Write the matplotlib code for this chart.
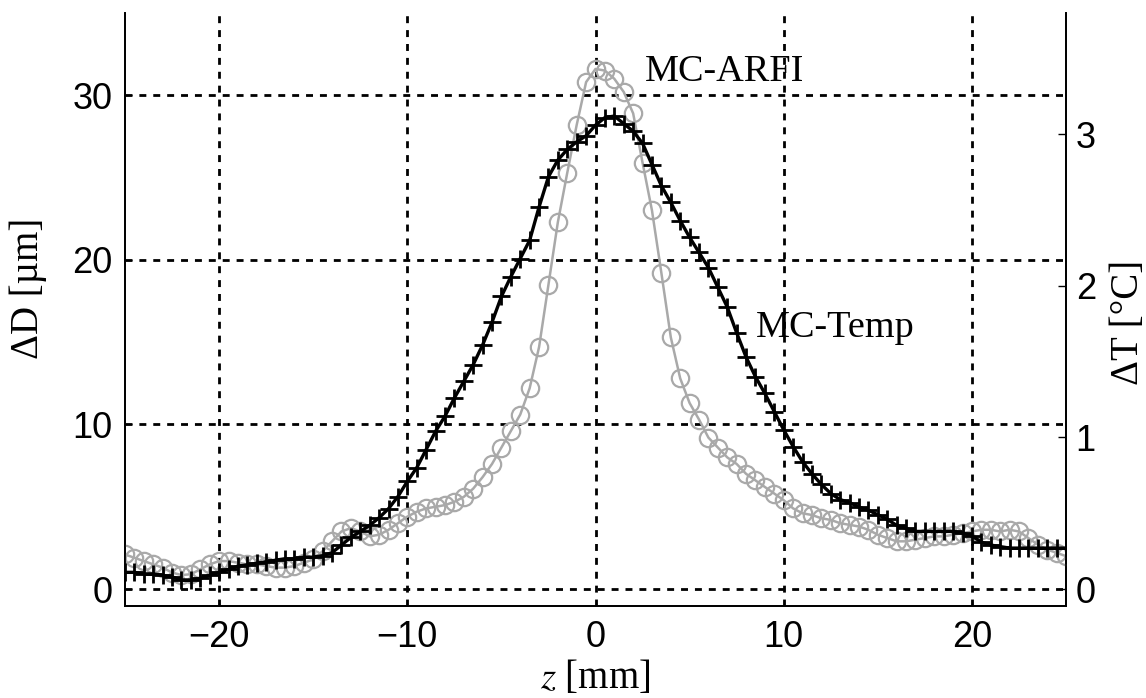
import numpy as np
import matplotlib
matplotlib.use("Agg")
import matplotlib.pyplot as plt

plt.rcParams["mathtext.fontset"] = "stix"

# axial position [mm]
z = np.arange(-25, 25.01, 0.5)

# MC-ARFI displacement [um]
arfi_disp = [
    2.1, 1.9, 1.7, 1.5, 1.3, 1.0, 0.85, 0.9, 1.2, 1.5,
    1.7, 1.7, 1.6, 1.5, 1.5, 1.4, 1.3, 1.3, 1.4, 1.6,
    1.8, 2.3, 2.9, 3.5, 3.7, 3.5, 3.2, 3.3, 3.6, 4.0,
    4.4, 4.7, 4.9, 5.0, 5.1, 5.3, 5.6, 6.1, 6.8, 7.6,
    8.6, 9.6, 10.6, 12.2, 14.7, 18.5, 22.3, 25.3, 28.2, 30.8,
    31.6, 31.5, 31.0, 30.2, 28.9, 25.9, 23.0, 19.2, 15.3, 12.8,
    11.3, 10.3, 9.2, 8.6, 8.0, 7.6, 7.0, 6.6, 6.2, 5.8,
    5.4, 4.9, 4.6, 4.5, 4.3, 4.2, 4.0, 3.9, 3.8, 3.6,
    3.3, 3.1, 2.9, 2.9, 3.0, 3.1, 3.2, 3.2, 3.3, 3.4,
    3.5, 3.6, 3.6, 3.5, 3.6, 3.5, 3.1, 2.7, 2.4, 2.2,
    2.0,
]

# MC-Temp temperature rise [degC]
temp_rise = [
    0.11, 0.11, 0.10, 0.10, 0.09, 0.08, 0.06, 0.06, 0.07, 0.09,
    0.11, 0.13, 0.15, 0.16, 0.17, 0.18, 0.19, 0.20, 0.20, 0.21,
    0.21, 0.22, 0.24, 0.29, 0.34, 0.38, 0.42, 0.47, 0.53, 0.61,
    0.71, 0.80, 0.92, 1.04, 1.14, 1.26, 1.37, 1.48, 1.61, 1.76,
    1.93, 2.06, 2.18, 2.30, 2.52, 2.72, 2.83, 2.90, 2.95, 2.99,
    3.06, 3.11, 3.12, 3.07, 3.02, 2.94, 2.80, 2.66, 2.55, 2.43,
    2.32, 2.22, 2.12, 1.99, 1.86, 1.69, 1.53, 1.40, 1.29, 1.17,
    1.05, 0.94, 0.84, 0.76, 0.69, 0.63, 0.59, 0.57, 0.54, 0.52,
    0.49, 0.46, 0.42, 0.40, 0.38, 0.38, 0.38, 0.38, 0.38, 0.37,
    0.35, 0.31, 0.29, 0.28, 0.27, 0.27, 0.27, 0.27, 0.27, 0.27,
    0.27,
]

x_ticks = [-20, -10, 0, 10, 20]
disp_ticks = [0, 10, 20, 30]
temp_ticks = [0, 1, 2, 3]

serif = "Liberation Serif"
sans = "Liberation Sans"

fig = plt.figure(figsize=(11.46, 6.98), dpi=100)
ax = fig.add_axes([0.1091, 0.1318, 0.8211, 0.8496])
ax2 = ax.twinx()

gray = "#a9a9a9"
ax.plot(z, arfi_disp, color=gray, lw=1.8, marker="o", ms=12.5,
        mfc="none", mec=gray, mew=1.6, zorder=3)
ax2.plot(z, temp_rise, color="black", lw=2.4, marker="+", ms=12.5,
         mew=2.0, zorder=3)

ax.set_xlim(-25, 25)
ax.set_ylim(-1.03, 35.0)
ax2.set_ylim(-0.112, 3.80)

ax.set_xticks(x_ticks)
ax.set_yticks(disp_ticks)
ax2.set_yticks(temp_ticks)
ax.set_xticklabels([f"\u2212{abs(v)}" if v < 0 else str(v) for v in x_ticks])

ax.grid(True, color="black", lw=2.0, linestyle=(0, (2.5, 2.5)))
ax.set_axisbelow(True)

for a in (ax, ax2):
    a.spines["top"].set_visible(False)
    for s in ("left", "right", "bottom"):
        a.spines[s].set_linewidth(1.3)

ax.tick_params(axis="both", direction="in", length=5, width=1.0,
               labelsize=26, colors="black")
ax.tick_params(axis="y", pad=9)
ax.tick_params(axis="x", pad=10, length=4)
ax2.tick_params(axis="y", direction="in", length=6, width=1.0,
                labelsize=26, pad=7)
for lbl in ax.get_xticklabels() + ax.get_yticklabels() + ax2.get_yticklabels():
    lbl.set_fontfamily(sans)

ax.set_xlabel(r"$z$ [mm]", fontsize=28, fontfamily=serif, labelpad=3)
ax.set_ylabel("\u0394D [\u00b5m]", fontsize=28, fontfamily=serif)
ax2.set_ylabel("\u0394T [\u00b0C]", fontsize=28, fontfamily=serif)
ax.yaxis.set_label_coords(-0.083, 0.535)
ax2.yaxis.set_label_coords(1.047, 0.479)

ax.text(2.6, 31.4, "MC-ARFI", fontsize=27.5, fontfamily=serif,
        va="center", ha="left")
ax.text(8.5, 15.9, "MC-Temp", fontsize=27.5, fontfamily=serif,
        va="center", ha="left")

fig.savefig("out.png", dpi=100)
